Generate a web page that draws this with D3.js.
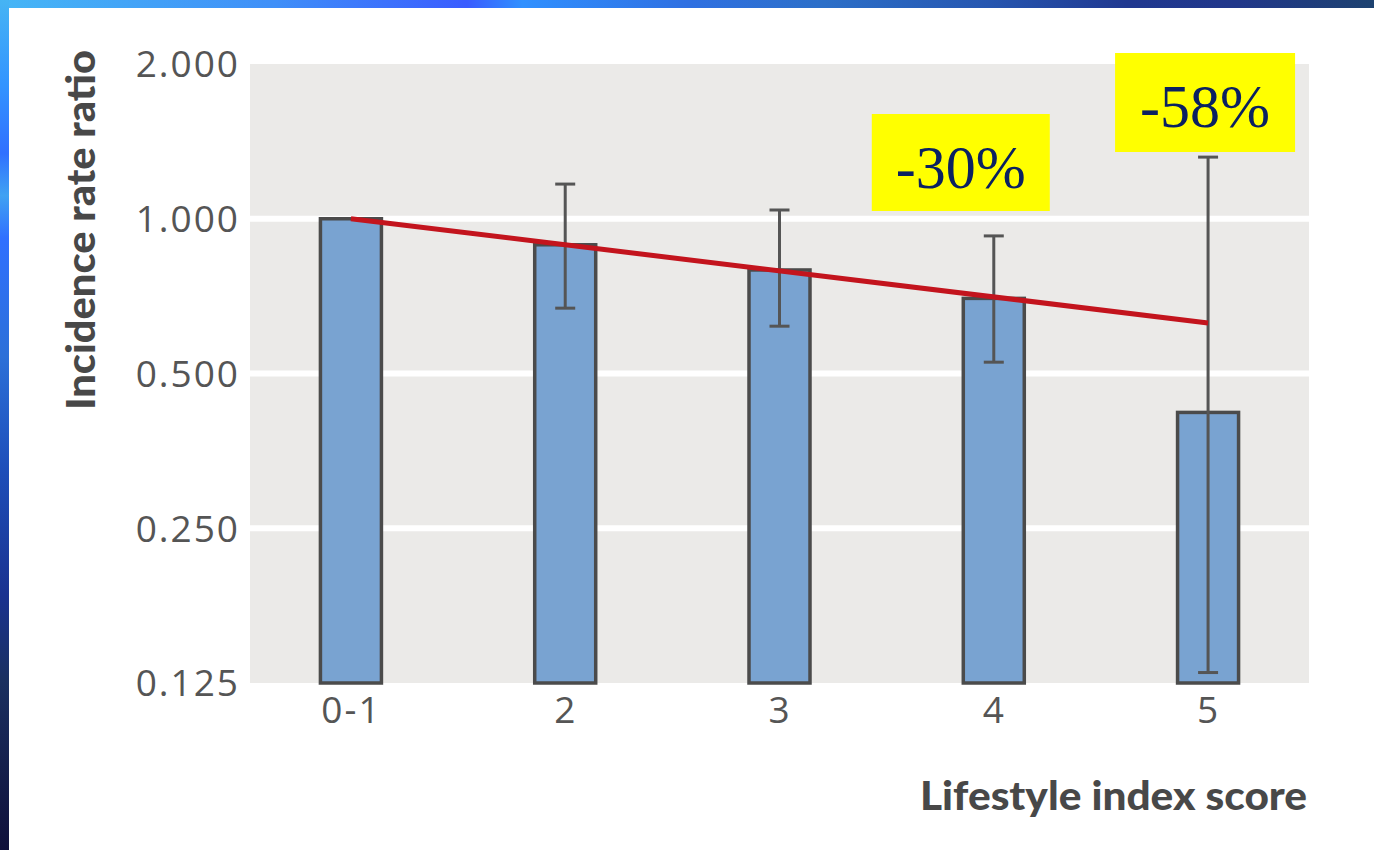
<!DOCTYPE html>
<html>
<head>
<meta charset="utf-8">
<script src="https://cdn.jsdelivr.net/npm/d3@7/dist/d3.min.js"></script>
<style>
  html, body { margin: 0; padding: 0; background: #ffffff; }
  svg { display: block; }
</style>
</head>
<body>
<svg id="chart" width="1374" height="850"></svg>
<script>
// Incidence rate ratio by lifestyle index score (log2 scale)
const categories = ["0-1", "2", "3", "4", "5"];
const irr        = [1.000, 0.890, 0.795, 0.700, 0.420];
const ciLow      = [null, 0.670, 0.618, 0.526, 0.131];
const ciHigh     = [null, 1.168, 1.040, 0.926, 1.318];
const yTicks     = [0.125, 0.250, 0.500, 1.000, 2.000];
const trendCats  = ["0-1", "5"];
const trendVals  = [1.000, 0.627];
const calloutCats = ["4", "5"];

const W = 1374, H = 850;
const svg = d3.select("#chart");

// slide frame: gradient bars along the top and left edges
const defs = svg.append("defs");
const gTop = defs.append("linearGradient").attr("id", "frameTop")
  .attr("x1", 0).attr("x2", 1).attr("y1", 0).attr("y2", 0);
[[0, "#46b6f6"], [0.2, "#3f8ff8"], [0.34, "#3a5cff"], [0.38, "#3090ff"], [0.5, "#2f70e2"],
 [0.6, "#2c6fc8"], [0.72, "#2656b0"], [0.82, "#203890"], [0.9, "#21378a"], [1, "#1d4270"]]
  .forEach(([o, c]) => gTop.append("stop").attr("offset", o).attr("stop-color", c));
const gLeft = defs.append("linearGradient").attr("id", "frameLeft")
  .attr("x1", 0).attr("x2", 0).attr("y1", 0).attr("y2", 1);
[[0, "#46b4f4"], [0.1, "#3394ff"], [0.18, "#3070ff"], [0.23, "#40a2f2"], [0.28, "#3070ff"],
 [0.42, "#2c70d8"], [0.55, "#1e4fba"], [0.7, "#1a3290"], [0.8, "#1a3060"], [1, "#10103a"]]
  .forEach(([o, c]) => gLeft.append("stop").attr("offset", o).attr("stop-color", c));
svg.append("rect").attr("x", 0).attr("y", 0).attr("width", W).attr("height", 8).attr("fill", "url(#frameTop)");
svg.append("rect").attr("x", 0).attr("y", 0).attr("width", 9).attr("height", H).attr("fill", "url(#frameLeft)");

// plot area
const plot = { left: 250, right: 1309, top: 64, bottom: 683 };
const x = d3.scalePoint().domain(categories).range([plot.left, plot.right]).padding(0.471);
const y = d3.scaleLog().base(2).domain([0.125, 2]).range([plot.bottom, plot.top]);
const barW = 61;

svg.append("rect")
  .attr("x", plot.left).attr("y", plot.top)
  .attr("width", plot.right - plot.left).attr("height", plot.bottom - plot.top)
  .attr("fill", "#ebeae8");

// white gridlines
svg.append("g").selectAll("line")
  .data(yTicks.filter(t => t > 0.125 && t < 2))
  .join("line")
  .attr("x1", plot.left).attr("x2", plot.right)
  .attr("y1", d => y(d)).attr("y2", d => y(d))
  .attr("stroke", "#ffffff").attr("stroke-width", 6);

// y axis labels
const yAxis = d3.axisLeft(y).tickValues(yTicks).tickFormat(d3.format(".3f")).tickSize(0).tickPadding(10);
const yg = svg.append("g").attr("transform", `translate(${plot.left},0)`).call(yAxis);
yg.select(".domain").remove();
yg.selectAll("text")
  .attr("font-family", "'Open Sans', sans-serif").attr("font-size", 37)
  .attr("fill", "#555555").attr("letter-spacing", 2).attr("dy", "0.35em");

// x axis labels
const xAxis = d3.axisBottom(x).tickSize(0).tickPadding(14);
const xg = svg.append("g").attr("transform", `translate(0,${plot.bottom})`).call(xAxis);
xg.select(".domain").remove();
xg.selectAll("text")
  .attr("font-family", "'Open Sans', sans-serif").attr("font-size", 37)
  .attr("fill", "#555555").attr("letter-spacing", 2).attr("dy", "0.71em");

// bars
const rows = categories.map((c, i) => ({ c, v: irr[i], lo: ciLow[i], hi: ciHigh[i] }));
svg.append("g").selectAll("rect")
  .data(rows).join("rect")
  .attr("x", d => x(d.c) - barW / 2)
  .attr("y", d => y(d.v))
  .attr("width", barW)
  .attr("height", d => plot.bottom - y(d.v))
  .attr("fill", "#79a3d1")
  .attr("stroke", "#4b4b4b").attr("stroke-width", 3.5);

// confidence intervals
const eb = svg.append("g").attr("stroke", "#555555").attr("stroke-width", 3).attr("fill", "none");
rows.filter(d => d.lo != null).forEach(d => {
  const cx = x(d.c);
  eb.append("line").attr("x1", cx).attr("x2", cx).attr("y1", y(d.hi)).attr("y2", y(d.lo));
  eb.append("line").attr("x1", cx - 10).attr("x2", cx + 10).attr("y1", y(d.hi)).attr("y2", y(d.hi));
  eb.append("line").attr("x1", cx - 10).attr("x2", cx + 10).attr("y1", y(d.lo)).attr("y2", y(d.lo));
});

// trend line
const line = d3.line().x(d => x(d[0])).y(d => y(d[1]));
svg.append("path")
  .datum(trendCats.map((c, i) => [c, trendVals[i]]))
  .attr("d", line)
  .attr("fill", "none").attr("stroke", "#c3141d").attr("stroke-width", 5);

// axis titles
svg.append("text")
  .attr("transform", "translate(95,230) rotate(-90)")
  .attr("text-anchor", "middle")
  .attr("font-family", "Lato, sans-serif").attr("font-weight", 900).attr("font-size", 40)
  .attr("fill", "#484848")
  .attr("textLength", 360).attr("lengthAdjust", "spacingAndGlyphs")
  .text("Incidence rate ratio");

svg.append("text")
  .attr("x", 920).attr("y", 810)
  .attr("font-family", "Lato, sans-serif").attr("font-weight", 900).attr("font-size", 40)
  .attr("fill", "#484848")
  .attr("textLength", 387).attr("lengthAdjust", "spacingAndGlyphs")
  .text("Lifestyle index score");

// percentage reduction callouts
const callouts = [
  { cat: calloutCats[0], dx: -122, top: 114, w: 178, h: 97 },
  { cat: calloutCats[1], dx: -93, top: 53, w: 180, h: 99 }
];
callouts.forEach(cfg => {
  const v = irr[categories.indexOf(cfg.cat)];
  const label = `${Math.round((v - 1) * 100)}%`;
  const bx = x(cfg.cat) + cfg.dx;
  svg.append("rect")
    .attr("x", bx).attr("y", cfg.top).attr("width", cfg.w).attr("height", cfg.h)
    .attr("fill", "#ffff00");
  svg.append("text")
    .attr("x", bx + cfg.w / 2).attr("y", cfg.top + 74)
    .attr("text-anchor", "middle")
    .attr("font-family", "'Liberation Serif', 'Times New Roman', serif").attr("font-size", 62)
    .attr("fill", "#0b2161")
    .attr("textLength", 130).attr("lengthAdjust", "spacingAndGlyphs")
    .text(label);
});
</script>
</body>
</html>
